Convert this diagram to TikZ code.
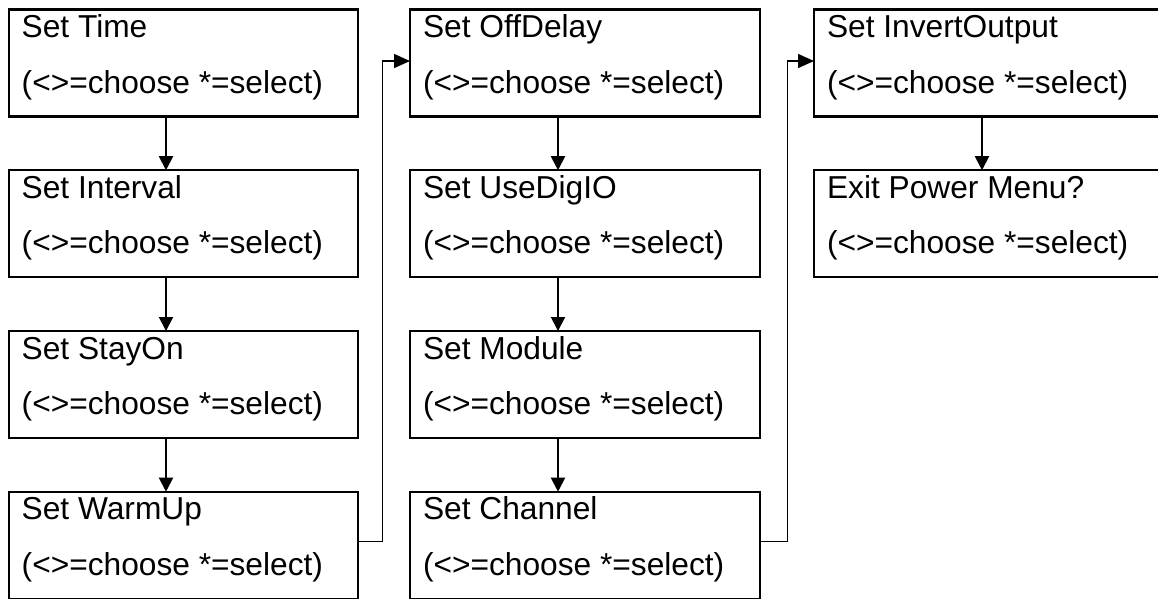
\documentclass[tikz,border=0pt]{standalone}
\usepackage{fontspec}
\setmainfont{Liberation Sans}
\usetikzlibrary{arrows.meta,calc}

% One menu screen: a box with its title and the key hint line
\newcommand\menubox[4]{%
  \node[menu, anchor=north west] (#1) at (#2,#3) {};
  \node[menutxt] (#1-title) at ($(#1.north west)+(13,28)$) {#4};
  \node[menutxt] (#1-hint) at ($(#1.north west)+(13,83.5)$) {(<>=choose *=select)};
}

\begin{document}
\begin{tikzpicture}[x=1pt, y=-1pt,
  menu/.style={draw=black, line width=2.2pt, rectangle, outer sep=0pt,
    inner sep=0pt, minimum width=349.6pt, minimum height=107pt},
  menutxt/.style={anchor=base west, inner sep=0pt, outer sep=0pt,
    font=\fontsize{31.7}{38}\selectfont},
  step arrow/.style={line width=2pt, -{Triangle[length=14pt, width=14pt]}},
  jump arrow/.style={line width=1.5pt, -{Triangle[length=16pt, width=14pt]}}]

  \useasboundingbox (0,0) rectangle (1158,598);

  % first column
  \menubox{time}{8.7}{9.5}{Set Time}
  \menubox{interval}{8.7}{170.2}{Set Interval}
  \menubox{stayon}{8.7}{331}{Set StayOn}
  \menubox{warmup}{8.7}{491.7}{Set WarmUp}

  % second column
  \menubox{offdelay}{410}{9.5}{Set OffDelay}
  \menubox{usedigio}{410}{170.2}{Set UseDigIO}
  \menubox{module}{410}{331}{Set Module}
  \menubox{channel}{410}{491.7}{Set Channel}

  % third column
  \menubox{invert}{814}{9.5}{Set InvertOutput}
  \menubox{exitmenu}{814}{170.2}{Exit Power Menu?}

  % steps down each column
  \draw[step arrow] ($(time.south west)+(157.3,0)$) -- ($(interval.north west)+(157.3,0)$);
  \draw[step arrow] ($(interval.south west)+(157.3,0)$) -- ($(stayon.north west)+(157.3,0)$);
  \draw[step arrow] ($(stayon.south west)+(157.3,0)$) -- ($(warmup.north west)+(157.3,0)$);

  \draw[step arrow] ($(offdelay.south west)+(148,0)$) -- ($(usedigio.north west)+(148,0)$);
  \draw[step arrow] ($(usedigio.south west)+(148,0)$) -- ($(module.north west)+(148,0)$);
  \draw[step arrow] ($(module.south west)+(148,0)$) -- ($(channel.north west)+(148,0)$);

  \draw[step arrow] ($(invert.south west)+(168,0)$) -- ($(exitmenu.north west)+(168,0)$);

  % jumps from the bottom of one column to the top of the next
  \draw[jump arrow] ($(warmup.north east)+(0,50)$) -| ($(offdelay.north west)+(-27.3,51.5)$)
    -- ($(offdelay.north west)+(0,51.5)$);
  \draw[jump arrow] ($(channel.north east)+(0,50)$) -| ($(invert.north west)+(-26.3,51.5)$)
    -- ($(invert.north west)+(0,51.5)$);
\end{tikzpicture}
\end{document}
